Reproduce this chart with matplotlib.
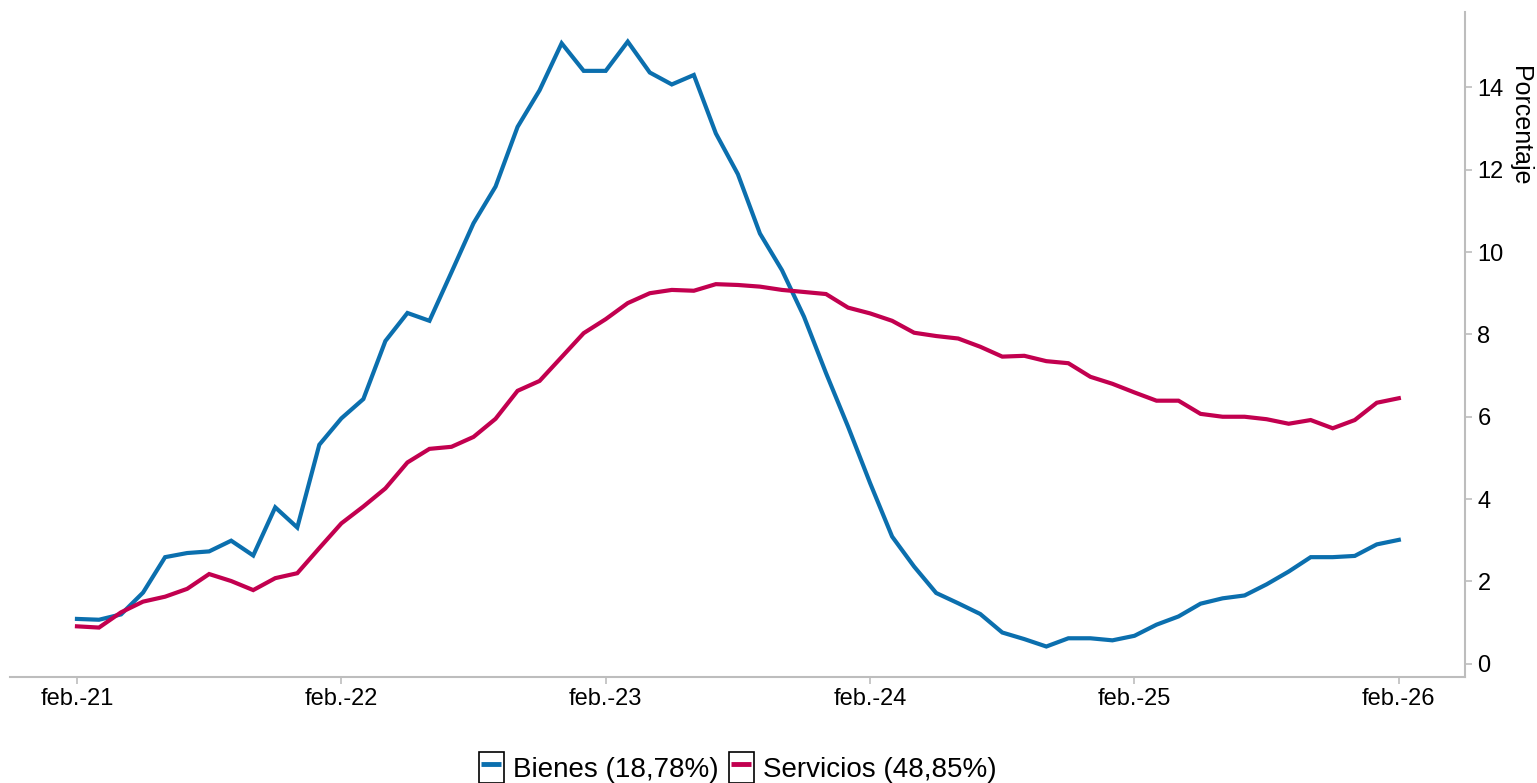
import matplotlib.pyplot as plt
from matplotlib.patches import Rectangle
from matplotlib.lines import Line2D
from matplotlib.legend_handler import HandlerTuple

plt.rcParams['font.family'] = ['Liberation Sans', 'DejaVu Sans']

# monthly data, feb-21 .. feb-26
months = list(range(61))
tick_pos = [0, 12, 24, 36, 48, 60]
tick_labels = ['feb.-21', 'feb.-22', 'feb.-23', 'feb.-24', 'feb.-25', 'feb.-26']

bienes = [1.09, 1.07, 1.20, 1.73, 2.59, 2.69, 2.73, 2.99, 2.63, 3.80,
          3.31, 5.32, 5.96, 6.43, 7.84, 8.52, 8.33, 9.51, 10.70, 11.59,
          13.04, 13.93, 15.07, 14.40, 14.40, 15.11, 14.36, 14.07, 14.30, 12.88,
          11.89, 10.45, 9.56, 8.43, 7.06, 5.76, 4.39, 3.09, 2.36, 1.72,
          1.47, 1.21, 0.76, 0.60, 0.42, 0.62, 0.62, 0.57, 0.68, 0.95,
          1.15, 1.46, 1.59, 1.66, 1.93, 2.24, 2.59, 2.59, 2.62, 2.90,
          3.01]
servicios = [0.91, 0.88, 1.25, 1.51, 1.63, 1.82, 2.18, 2.01, 1.79, 2.08,
             2.20, 2.81, 3.41, 3.82, 4.26, 4.89, 5.22, 5.27, 5.51, 5.95,
             6.63, 6.87, 7.45, 8.03, 8.37, 8.76, 9.00, 9.08, 9.06, 9.22,
             9.20, 9.16, 9.08, 9.03, 8.98, 8.65, 8.51, 8.33, 8.04, 7.96,
             7.90, 7.70, 7.46, 7.48, 7.35, 7.30, 6.97, 6.80, 6.59, 6.39,
             6.39, 6.07, 6.00, 6.00, 5.94, 5.83, 5.92, 5.72, 5.92, 6.34,
             6.45]

blue = '#0b6fae'
red = '#c2004f'
grey = '#bdbdbd'

fig = plt.figure(figsize=(15.37, 7.83), dpi=100)
ax = fig.add_axes([0.0065, 0.1354, 0.9466, 0.8493])

ax.plot(months, bienes, color=blue, linewidth=3.0, solid_joinstyle='miter')
ax.plot(months, servicios, color=red, linewidth=3.0, solid_joinstyle='miter')

ax.set_xlim(-3.04, 63.0)
ax.set_ylim(-0.32, 15.83)

for s in ['top', 'left']:
    ax.spines[s].set_visible(False)
for s in ['bottom', 'right']:
    ax.spines[s].set_color(grey)
    ax.spines[s].set_linewidth(1.5)

ax.yaxis.tick_right()
ax.yaxis.set_label_position('right')
ax.set_yticks([0, 2, 4, 6, 8, 10, 12, 14])
ax.set_xticks(tick_pos)
ax.set_xticklabels(tick_labels)
ax.tick_params(axis='both', colors=grey, labelcolor='black', labelsize=17,
               length=5, width=1.2)
ax.tick_params(axis='x', pad=3)
ax.tick_params(axis='y', pad=4)
ax.set_ylabel('Porcentaje', rotation=-90, fontsize=18, va='center', ha='center')
ax.yaxis.set_label_coords(1.038, 0.829)

# ggplot-style legend keys: line inside a box
def key(color):
    box = Rectangle((0, 0), 1, 1, facecolor='white', edgecolor='black', linewidth=1.2)
    seg = Line2D([], [], linestyle='none', marker='_', markersize=15,
                 markeredgewidth=3.5, color=color)
    return (box, seg)

fig.legend([key(blue), key(red)], ['Bienes (18,78%)', 'Servicios (48,85%)'],
           handler_map={tuple: HandlerTuple(ndivide=1, pad=0)},
           loc='center', bbox_to_anchor=(0.48, 0.02), ncol=2, frameon=False,
           fontsize=20, handlelength=0.9, handleheight=1.35, handletextpad=0.35,
           columnspacing=0.35, numpoints=1)

fig.savefig('out.png', dpi=100)
